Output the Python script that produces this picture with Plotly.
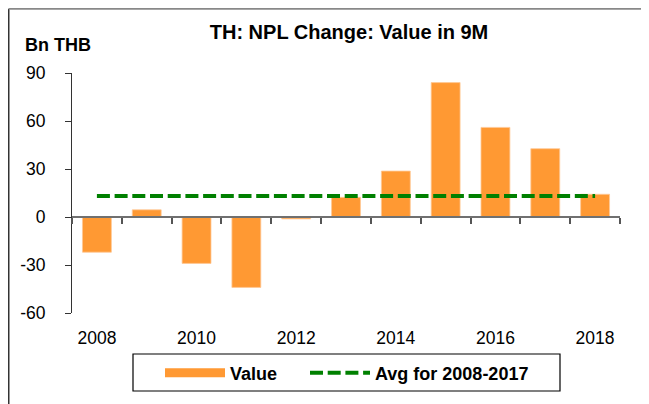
import plotly.graph_objects as go

years = [2008, 2009, 2010, 2011, 2012, 2013, 2014, 2015, 2016, 2017, 2018]
npl_change = [-22, 4.5, -29, -44, -1.2, 12.3, 28.7, 84, 56, 42.7, 14.2]
avg_2008_2017 = [13.2] * len(years)
x_labels = [2008, 2010, 2012, 2014, 2016, 2018]
y_ticks = [-60, -30, 0, 30, 60, 90]
y_ticktext = ["-60", "-30", "0", "30", "60", "90"]

font_name = "Arial, Liberation Sans, sans-serif"
orange = "#FF9933"
green = "#008000"

# the page puts the figure 8px in from the corner, so work in page pixels
# and convert: plot area spans x 72..620, y 73..313 on the page
def px(x):
    return (x - 72) / 548

def py(y):
    return (313 - y) / 240

fig = go.Figure()

# bars (legend entry drawn by a dummy line trace so the swatch is long like Excel's)
fig.add_trace(go.Bar(
    x=years, y=npl_change, name="Value",
    marker=dict(color=orange, line=dict(color="rgba(255,200,150,0.8)", width=1)),
    width=0.58, showlegend=False,
))
fig.add_trace(go.Scatter(
    x=[None], y=[None], name="Value", mode="lines",
    line=dict(color=orange, width=9), legend="legend",
))

# average line, on the overlaid axis that sits at y=0
fig.add_trace(go.Scatter(
    x=years, y=avg_2008_2017, name="Avg for 2008-2017", mode="lines",
    line=dict(color=green, width=4, dash="13px,4.7px"),
    xaxis="x2", legend="legend2",
))

legend_style = dict(
    orientation="h", xanchor="left", yanchor="middle", y=py(373),
    borderwidth=0, bgcolor="rgba(0,0,0,0)",
    font=dict(family=font_name, size=18, weight="bold"),
    itemwidth=60,
)

fig.update_layout(
    width=641, height=396,
    margin=dict(l=64, r=29, t=65, b=91),
    plot_bgcolor="white", paper_bgcolor="white",
    font=dict(family=font_name, size=17.5, color="black"),
    title=dict(
        text="TH: NPL Change: Value in 9M",
        x=(349 - 8) / 641, xanchor="center", y=1 - (32 - 8) / 396, yanchor="middle",
        xref="container", yref="container",
        font=dict(family=font_name, size=20, weight="bold"),
    ),
    xaxis=dict(
        range=[2007.5, 2018.5], tickvals=x_labels, ticks="",
        showline=False, showgrid=False, zeroline=False,
        ticklabelstandoff=12,
    ),
    xaxis2=dict(
        overlaying="x", anchor="free", position=0.4, side="bottom",
        range=[2007.5, 2018.5],
        tickvals=[y + 0.5 for y in [2007] + years],
        showticklabels=False, ticks="outside", ticklen=6, tickwidth=1.5,
        tickcolor="#555555",
        showline=True, linecolor="#707070", linewidth=1.5,
        showgrid=False, zeroline=False,
    ),
    yaxis=dict(
        range=[-60, 90], tickvals=y_ticks, ticktext=y_ticktext,
        ticks="outside", ticklen=6,
        tickcolor="#333333", showline=True, linecolor="#333333", linewidth=1,
        showgrid=False, zeroline=False, ticklabelstandoff=16,
    ),
    legend=dict(legend_style, x=px(160)),
    legend2=dict(legend_style, x=px(305)),
    showlegend=True,
)

fig.add_annotation(
    text="Bn THB", xref="paper", yref="paper",
    x=px(23), xanchor="left", y=py(45), yanchor="middle",
    showarrow=False, font=dict(family=font_name, size=18, weight="bold"),
)

# legend box
fig.add_shape(type="rect", xref="paper", yref="paper",
              x0=px(133), x1=px(560), y0=py(354), y1=py(391),
              line=dict(color="black", width=1.2), layer="below")

# chart frame (left and top edges)
fig.add_shape(type="line", xref="paper", yref="paper",
              x0=px(8.75), x1=px(8.75), y0=py(404), y1=py(8.75),
              line=dict(color="#333333", width=1.5))
fig.add_shape(type="line", xref="paper", yref="paper",
              x0=px(8.75), x1=px(649), y0=py(8.75), y1=py(8.75),
              line=dict(color="#888888", width=2))

fig.write_html("out.html")
